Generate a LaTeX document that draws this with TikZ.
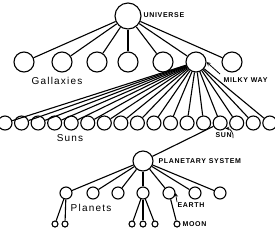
\documentclass[tikz,border=0pt]{standalone}
\usepackage{fontspec}
\newfontfamily\capfont[LetterSpace=10]{Liberation Sans}
\newfontfamily\grpfont[LetterSpace=12]{Liberation Sans}
\usetikzlibrary{arrows.meta}

\begin{document}
\begin{tikzpicture}[x=1pt,y=-1pt,>=stealth,line width=1.1pt,
  body/.style={circle,draw,inner sep=0pt,minimum size=#1},
  caplbl/.style={font=\capfont\bfseries\fontsize{7}{8}\selectfont,anchor=west,inner sep=0pt},
  grplbl/.style={font=\grpfont\fontsize{10}{12}\selectfont,inner sep=0pt}]
\useasboundingbox (0,0) rectangle (275,234);
% universe and galaxies
\node[body=26pt](univ) at (128,16){};
\node[caplbl](univlbl) at (143,15){UNIVERSE};
\foreach \x/\n in {24/1,62/2,97/3,128/4,163/5,196/6,232/7}{
  \node[body=20pt](g\n) at (\x,62){};
  \draw (univ)--(g\n);
}
\node[grplbl](galaxlbl) at (57,81){Gallaxies};
\node[caplbl](mwlbl) at (223,80){MILKY WAY};
\coordinate (mwtail) at (220,74);
\draw[->,line width=0.8pt] (mwtail)--(g6.east);
% suns
\foreach \i in {0,...,16}{
  \node[body=14pt](s\i) at ({5+16.55*\i},123){};
  \draw (g6)--(s\i);
}
\node[grplbl](sunslbl) at (70,138){Suns};
\node[caplbl](sunlbl) at (215,135){SUN};
\coordinate (suntail) at (233,138);
\draw[->,line width=0.7pt] (suntail) to[bend right=50] (s13.south east);
% planetary system
\node[body=20pt](ps) at (143,161){};
\node[caplbl](pslbl) at (158,161){PLANETARY SYSTEM};
\draw (s13)--(ps);
\foreach \x/\n in {66/1,93/2,118/3,143/4,169/5,195/6,220/7}{
  \node[body=12pt](p\n) at (\x,193){};
  \draw (ps)--(p\n);
}
\node[grplbl](planlbl) at (91,208){Planets};
\node[caplbl](earthlbl) at (177,205){EARTH};
\draw[->,line width=0.7pt] (earthlbl.north west)--(p5.east);
% moons
\foreach \x/\p/\n in {55/1/a,65/1/b,132/4/a,143/4/b,155/4/c,177/5/a}{
  \node[body=6pt](m\p\n) at (\x,224){};
  \draw (p\p)--(m\p\n);
}
\node[caplbl](moonlbl) at (182,224){MOON};
\end{tikzpicture}
\end{document}
